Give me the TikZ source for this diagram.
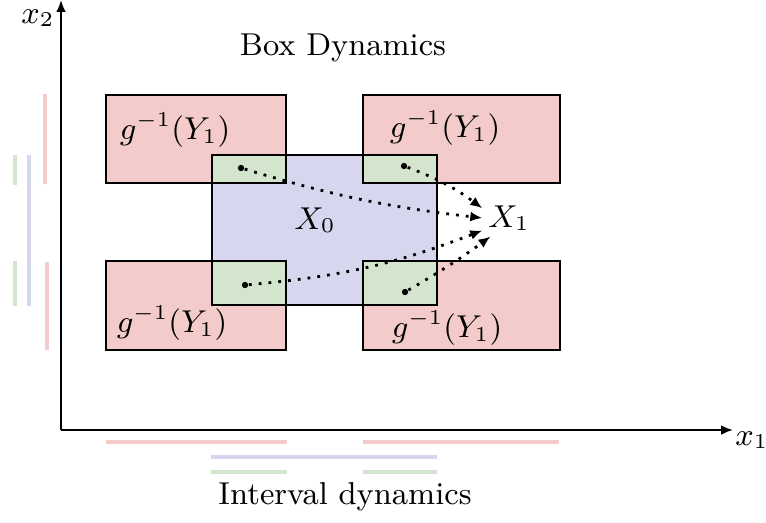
\documentclass[tikz,border=0pt]{standalone}
\usetikzlibrary{arrows.meta, positioning, calc}

\begin{document}
\begin{tikzpicture}[
    x=1cm, y=1cm,
    font=\small,
    >={Latex[length=1.2mm, width=1mm]},
    box/.style={draw, thick},
    dot/.style={circle, fill, inner sep=0pt, minimum size=1.8pt},
    flow/.style={->, thick, dotted},
    bar/.style={line width=1.2pt}
]
    % fixed canvas: 7.66cm x 5.22cm
    \path[use as bounding box] (0, 0) rectangle (7.66, 5.22);

    % ==========================================
    % colours
    % ==========================================
    \definecolor{boxred}{HTML}{F3CBCB}    % g^{-1}(Y_1)
    \definecolor{boxblue}{HTML}{D6D6EE}   % X_0
    \definecolor{boxgreen}{HTML}{D3E5CC}  % overlap

    % ==========================================
    % axes
    % ==========================================
    \coordinate (O) at (0.61, 0.92);
    \coordinate (xend) at (7.33, 0.92);
    \coordinate (yend) at (0.61, 5.22);
    \draw[->, thick] (O) -- (xend);
    \draw[->, thick] (O) -- (yend);
    \node (x1ax) at (7.52, 0.82) {$x_1$};
    \node (x2ax) at (0.38, 5.04) {$x_2$};

    \node (boxtitle) at (3.43, 4.74) {Box Dynamics};
    \node (inttitle) at (3.45, 0.25) {Interval dynamics};

    % ==========================================
    % boxes
    % ==========================================
    % 1. preimages of Y_1 (red)
    \foreach \xa/\xb/\ya/\yb in {1.06/2.86/3.39/4.27, 3.63/5.60/3.39/4.27,
                                 1.06/2.86/1.72/2.61, 3.63/5.60/1.72/2.61} {
        \filldraw[box, fill=boxred] (\xa, \ya) rectangle (\xb, \yb);
    }

    % 2. X_0 (blue)
    \filldraw[box, fill=boxblue] (2.12, 2.17) rectangle (4.37, 3.67);

    % 3. overlaps (green)
    \foreach \xa/\xb/\ya/\yb in {2.12/2.86/3.39/3.67, 3.63/4.37/3.39/3.67,
                                 2.12/2.86/2.17/2.61, 3.63/4.37/2.17/2.61} {
        \filldraw[box, fill=boxgreen] (\xa, \ya) rectangle (\xb, \yb);
    }

    % labels
    \node (gtl) at (1.75, 3.92) {$g^{-1}(Y_1)$};
    \node (gtr) at (4.45, 3.94) {$g^{-1}(Y_1)$};
    \node (gbl) at (1.72, 1.99) {$g^{-1}(Y_1)$};
    \node (gbr) at (4.47, 1.94) {$g^{-1}(Y_1)$};
    \node (X0) at (3.15, 3.02) {$X_0$};
    \node[inner sep=1.5pt] (X1) at (5.09, 3.04) {$X_1$};

    % ==========================================
    % points mapped into X_1
    % ==========================================
    \node[dot] (ptl) at (2.41, 3.54) {};
    \node[dot] (ptr) at (4.04, 3.56) {};
    \node[dot] (pbl) at (2.45, 2.37) {};
    \node[dot] (pbr) at (4.05, 2.30) {};

    \draw[flow] (ptl) to[bend right=5] (X1.west);
    \draw[flow] (ptr) to[bend left=8] (X1.160);
    \draw[flow] (pbl) to[bend right=8] (X1.205);
    \draw[flow] (pbr) to[bend right=3] (X1.225);

    % ==========================================
    % interval projections
    % ==========================================
    % on x_1
    \draw[bar, boxred] (1.06, 0.80) -- (2.87, 0.80);
    \draw[bar, boxred] (3.63, 0.80) -- (5.59, 0.80);
    \draw[bar, boxblue] (2.11, 0.65) -- (4.37, 0.65);
    \draw[bar, boxgreen] (2.11, 0.50) -- (2.87, 0.50);
    \draw[bar, boxgreen] (3.63, 0.50) -- (4.37, 0.50);

    % on x_2
    \draw[bar, boxred] (0.45, 3.38) -- (0.45, 4.28);
    \draw[bar, boxred] (0.47, 1.72) -- (0.47, 2.60);
    \draw[bar, boxblue] (0.29, 2.16) -- (0.29, 3.67);
    \draw[bar, boxgreen] (0.15, 3.37) -- (0.15, 3.67);
    \draw[bar, boxgreen] (0.15, 2.16) -- (0.15, 2.61);

\end{tikzpicture}
\end{document}
